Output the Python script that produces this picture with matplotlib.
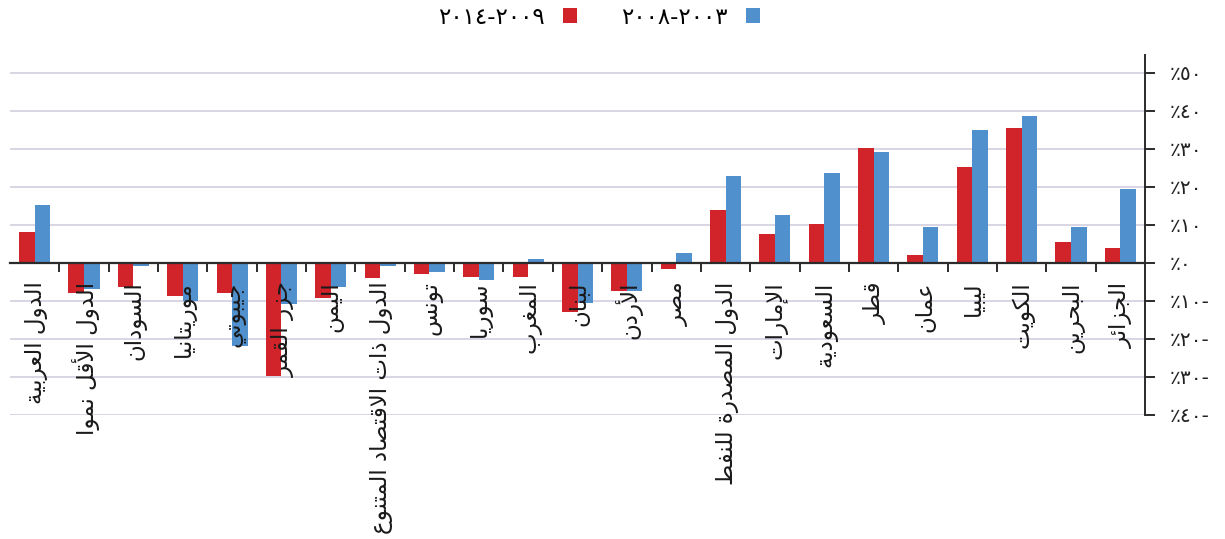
import numpy as np
import matplotlib
matplotlib.use("Agg")
import matplotlib.pyplot as plt

# ---------------- data (Arabic order, right to left) ----------------
categories = [
    "الجزائر", "البحرين", "الكويت", "ليبيا", "عمان", "قطر", "السعودية",
    "الإمارات", "الدول المصدرة للنفط", "مصر", "الأردن", "لبنان", "المغرب",
    "سوريا", "تونس", "الدول ذات الاقتصاد المتنوع", "اليمن", "جزر القمر",
    "جيبوتي", "موريتانيا", "السودان", "الدول الأقل نموا", "الدول العربية",
]
s_2009_2014 = [3.9, 5.5, 35.5, 25.3, 2.1, 30.3, 10.3, 7.6, 13.9, -1.5, -7.3,
               -12.8, -3.6, -3.6, -2.9, -3.9, -9.1, -29.7, -7.8, -8.6, -6.2,
               -7.8, 8.2]
s_2003_2008 = [19.5, 9.5, 38.7, 35.0, 9.5, 29.2, 23.7, 12.6, 22.9, 2.7, -7.4,
               -10.6, 1.0, -4.5, -2.3, -0.7, -6.2, -10.7, -21.8, -9.9, -0.7,
               -6.9, 15.3]
# written in visual (left-to-right) order
series_labels = ["٢٠١٤-٢٠٠٩", "٢٠٠٨-٢٠٠٣"]
y_ticks = [-40, -30, -20, -10, 0, 10, 20, 30, 40, 50]

RED = "#d0232a"
BLUE = "#4f90cd"
DARK = "#2b2b2b"
GRID = "#d8d2e2"

# ---------------- minimal Arabic shaping ----------------
FORMS = {
    "\u0627": ("\uFE8D", "\uFE8E", None, None),
    "\u0623": ("\uFE83", "\uFE84", None, None),
    "\u0625": ("\uFE87", "\uFE88", None, None),
    "\u0622": ("\uFE81", "\uFE82", None, None),
    "\u0628": ("\uFE8F", "\uFE90", "\uFE91", "\uFE92"),
    "\u0629": ("\uFE93", "\uFE94", None, None),
    "\u062A": ("\uFE95", "\uFE96", "\uFE97", "\uFE98"),
    "\u062C": ("\uFE9D", "\uFE9E", "\uFE9F", "\uFEA0"),
    "\u062D": ("\uFEA1", "\uFEA2", "\uFEA3", "\uFEA4"),
    "\u062F": ("\uFEA9", "\uFEAA", None, None),
    "\u0630": ("\uFEAB", "\uFEAC", None, None),
    "\u0631": ("\uFEAD", "\uFEAE", None, None),
    "\u0632": ("\uFEAF", "\uFEB0", None, None),
    "\u0633": ("\uFEB1", "\uFEB2", "\uFEB3", "\uFEB4"),
    "\u0635": ("\uFEB9", "\uFEBA", "\uFEBB", "\uFEBC"),
    "\u0637": ("\uFEC1", "\uFEC2", "\uFEC3", "\uFEC4"),
    "\u0639": ("\uFEC9", "\uFECA", "\uFECB", "\uFECC"),
    "\u063A": ("\uFECD", "\uFECE", "\uFECF", "\uFED0"),
    "\u0641": ("\uFED1", "\uFED2", "\uFED3", "\uFED4"),
    "\u0642": ("\uFED5", "\uFED6", "\uFED7", "\uFED8"),
    "\u0643": ("\uFED9", "\uFEDA", "\uFEDB", "\uFEDC"),
    "\u0644": ("\uFEDD", "\uFEDE", "\uFEDF", "\uFEE0"),
    "\u0645": ("\uFEE1", "\uFEE2", "\uFEE3", "\uFEE4"),
    "\u0646": ("\uFEE5", "\uFEE6", "\uFEE7", "\uFEE8"),
    "\u0647": ("\uFEE9", "\uFEEA", "\uFEEB", "\uFEEC"),
    "\u0648": ("\uFEED", "\uFEEE", None, None),
    "\u064A": ("\uFEF1", "\uFEF2", "\uFEF3", "\uFEF4"),
    "\u0626": ("\uFE89", "\uFE8A", "\uFE8B", "\uFE8C"),
}
LAM_ALEF = {
    "\u0622": ("\uFEF5", "\uFEF6"),
    "\u0623": ("\uFEF7", "\uFEF8"),
    "\u0625": ("\uFEF9", "\uFEFA"),
    "\u0627": ("\uFEFB", "\uFEFC"),
}


def _dual(c):
    return isinstance(c, str) and c in FORMS and FORMS[c][2] is not None


def shape_word(w):
    chars = []
    i = 0
    while i < len(w):
        c = w[i]
        if c == "\u0644" and i + 1 < len(w) and w[i + 1] in LAM_ALEF:
            chars.append(("LA", w[i + 1]))
            i += 2
        else:
            chars.append(c)
            i += 1
    out = []
    for j, c in enumerate(chars):
        prev = chars[j - 1] if j > 0 else None
        nxt = chars[j + 1] if j + 1 < len(chars) else None
        jp = prev is not None and _dual(prev)
        if isinstance(c, tuple):
            iso, fin = LAM_ALEF[c[1]]
            out.append(fin if jp else iso)
            continue
        if c not in FORMS:
            out.append(c)
            continue
        f = FORMS[c]
        jn = f[2] is not None and nxt is not None
        if jp and jn:
            out.append(f[3])
        elif jp:
            out.append(f[1])
        elif jn:
            out.append(f[2])
        else:
            out.append(f[0])
    return "".join(out)


def ar(text):
    shaped = " ".join(shape_word(w) for w in text.split(" "))
    return shaped[::-1]


AR_DIGITS = str.maketrans("0123456789", "٠١٢٣٤٥٦٧٨٩")


def pct_label(v):
    s = str(abs(v)).translate(AR_DIGITS)
    return "٪" + s + ("-" if v < 0 else "")


# ---------------- figure ----------------
plt.rcParams["font.family"] = ["DejaVu Sans"]
fig = plt.figure(figsize=(12.25, 5.39), dpi=100)
ax = fig.add_axes([10 / 1225, (539 - 415) / 539, 1135 / 1225, 360 / 539])

n = len(categories)
x = np.arange(n)
w = 0.315
b_red = ax.bar(x + w / 2, s_2009_2014, width=w, color=RED, zorder=2)
b_blue = ax.bar(x - w / 2, s_2003_2008, width=w, color=BLUE, zorder=2)

ax.set_xlim(n - 0.5, -0.5)
ax.set_ylim(-40, 54.7)

# spines
for s in ("left", "top"):
    ax.spines[s].set_visible(False)
ax.spines["bottom"].set_position(("data", 0))
ax.spines["bottom"].set_color(DARK)
ax.spines["bottom"].set_linewidth(1.6)
ax.spines["bottom"].set_zorder(3)
ax.spines["right"].set_color(DARK)
ax.spines["right"].set_linewidth(1.4)

# y axis on the right
ax.yaxis.tick_right()
ax.set_yticks(y_ticks)
ax.set_yticklabels([pct_label(v) for v in y_ticks], fontsize=14.5, color="#222222")
ax.tick_params(axis="y", direction="out", length=7.5, width=1.4, color=DARK, pad=10)

# x ticks at category boundaries
ax.set_xticks(np.arange(0.5, n - 1, 1))
ax.set_xticklabels([])
ax.tick_params(axis="x", direction="out", length=6.5, width=1.4, color=DARK)

# grid
ax.yaxis.grid(True, color=GRID, linewidth=1.3, zorder=0)
ax.set_axisbelow(True)

# category labels
for i, lab in enumerate(categories):
    ax.text(i - 0.03, -4.9, ar(lab), rotation=90, ha="center", va="top",
            fontsize=16.5, color="#1a1a1a")

# legend (RTL: marker right of text)
fig.legend([b_red, b_blue], series_labels, ncol=2, markerfirst=False,
           frameon=False, loc="center", bbox_to_anchor=(0.489, 0.968),
           fontsize=16.5, handlelength=0.62, handleheight=0.62,
           columnspacing=1.9, handletextpad=0.8)

fig.savefig("out.png", dpi=100)
